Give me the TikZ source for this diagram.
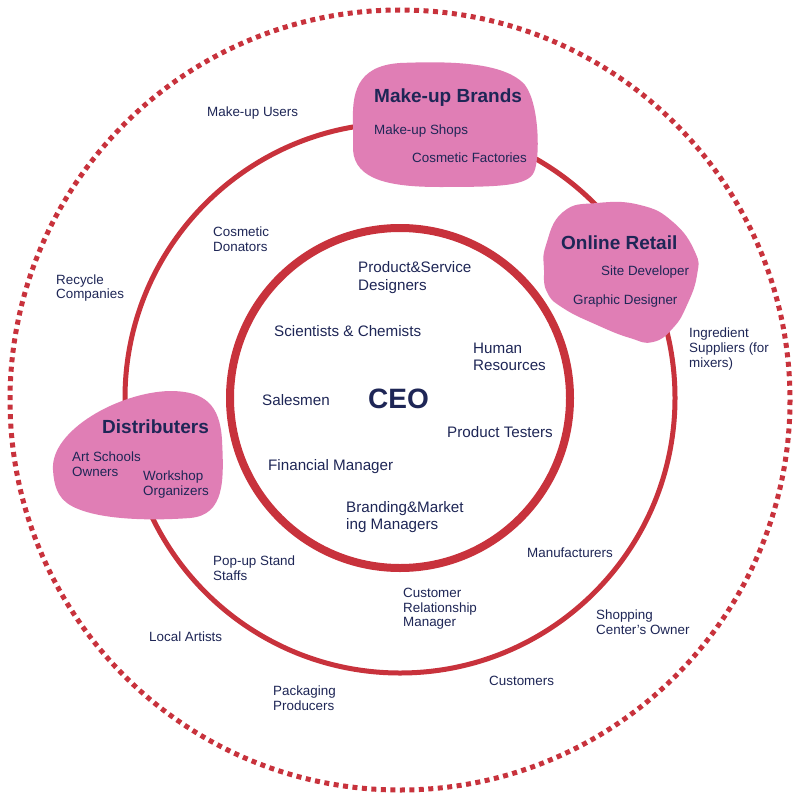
\documentclass[tikz,border=0pt]{standalone}
\usepackage{fontspec}
\setmainfont{Liberation Sans}
\definecolor{ringred}{HTML}{C8323C}
\definecolor{blobpink}{HTML}{E07EB5}
\definecolor{navy}{HTML}{1E2656}
\begin{document}
\begin{tikzpicture}[x=1pt,y=-1pt,
  lbl/.style={anchor=west,inner sep=0pt,align=left,text=navy,font=\fontsize{13.4}{14.6}\selectfont},
  ilbl/.style={anchor=west,inner sep=0pt,align=left,text=navy,font=\fontsize{15.2}{17.5}\selectfont},
  ttl/.style={anchor=west,inner sep=0pt,text=navy,font=\bfseries\fontsize{19}{22}\selectfont},
  blob/.style={fill=blobpink,draw=none},
  ring/.style={draw=ringred}]
\useasboundingbox (0,0) rectangle (805,800);
\fill[white] (0,0) rectangle (805,800);
% rings
\draw[ring, line width=5pt, dash pattern=on 5pt off 4.498pt] (400,400) circle[radius=390];
\draw[ring, line width=5pt] (400,398) circle[radius=275];
\draw[ring, line width=8pt] (400,398) circle[radius=170];
% blobs
\fill[blob] (353,125) .. controls (352,95) and (355,66) .. (400,63)
  .. controls (450,61) and (505,62) .. (525,85)
  .. controls (540,105) and (540,160) .. (534,172)
  .. controls (528,186) and (500,187) .. (440,187)
  .. controls (390,187) and (355,180) .. (353,150) -- cycle;
\fill[blob] plot[smooth cycle, tension=0.8] coordinates {(546,245) (563,212) (597,203) (640,205) (673,222) (695,252) (697,275) (687,305) (673,328) (653,342) (630,338) (597,325) (563,308) (547,292) (544,270)};
\fill[blob] (53,470) .. controls (50,430) and (120,392) .. (170,391)
  .. controls (205,391) and (220,405) .. (222,440)
  .. controls (224,480) and (225,515) .. (190,518)
  .. controls (150,521) and (95,520) .. (70,505)
  .. controls (57,497) and (54,485) .. (53,470) -- cycle;
% blob texts
\node[ttl] (mubt) at (374,98) {Make-up Brands};
\node[lbl] (mubs) at (374,131) {Make-up Shops};
\node[lbl] (mubf) at (412,158) {Cosmetic Factories};
\node[ttl] (ort) at (561,243) {Online Retail};
\node[lbl] (ors) at (601,272) {Site Developer};
\node[lbl] (org) at (573,301) {Graphic Designer};
\node[ttl] (dist) at (102,427) {Distributers};
\node[lbl] (arts) at (72,464.5) {Art Schools\\Owners};
\node[lbl] (work) at (143,484.5) {Workshop\\Organizers};
% outer ring texts
\node[lbl] (users) at (207,113) {Make-up Users};
\node[lbl] (donat) at (213,239) {Cosmetic\\Donators};
\node[lbl] (recyc) at (56,288) {Recycle\\Companies};
\node[lbl] (ingr) at (689,349) {Ingredient\\Suppliers (for\\mixers)};
\node[lbl] (manuf) at (527,553) {Manufacturers};
\node[lbl] (shop) at (596,622) {Shopping\\Center’s Owner};
\node[lbl] (popup) at (213,568) {Pop-up Stand\\Staffs};
\node[lbl] (local) at (149,637) {Local Artists};
\node[lbl] (pack) at (273,698) {Packaging\\Producers};
\node[lbl] (crm) at (403,609) {Customer\\Relationship\\Manager};
\node[lbl] (cust) at (489,681) {Customers};
% inner texts
\node[ilbl] (psd) at (358,277.5) {Product\&Service\\Designers};
\node[ilbl] (sci) at (274,331) {Scientists \& Chemists};
\node[ilbl] (hr) at (473,357) {Human\\Resources};
\node[ilbl] (sales) at (262,400) {Salesmen};
\node[inner sep=0pt,text=navy,font=\bfseries\fontsize{28}{32}\selectfont] (ceo) at (398.5,399) {CEO};
\node[ilbl] (test) at (447,432) {Product Testers};
\node[ilbl] (fin) at (268,467) {Financial Manager};
\node[ilbl] (brand) at (346,517) {Branding\&Market\\ing Managers};
\end{tikzpicture}
\end{document}
